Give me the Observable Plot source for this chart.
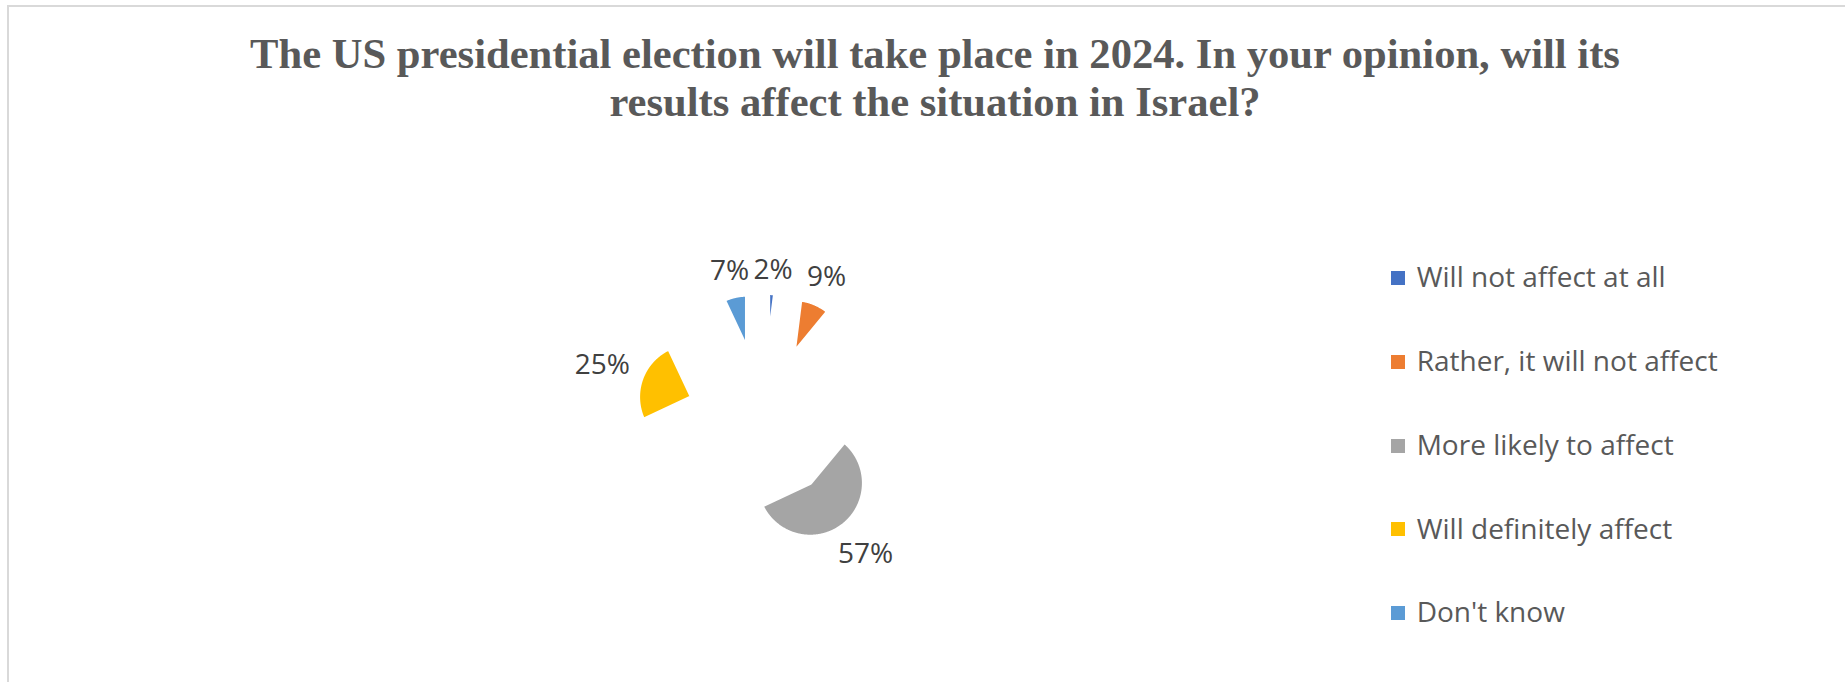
<!DOCTYPE html>
<html><head><meta charset="utf-8">
<script src="https://cdn.jsdelivr.net/npm/d3@7"></script>
<script src="https://cdn.jsdelivr.net/npm/@observablehq/plot@0.6"></script>
<style>
html,body{margin:0;padding:0;background:#fff;overflow:hidden;width:1845px;height:682px;position:relative;}
#frame{position:absolute;left:7px;top:5px;width:1900px;height:800px;border-top:2px solid #d9d9d9;border-left:2px solid #d9d9d9;}
#title{position:absolute;left:0;width:1870px;top:29.5px;text-align:center;font:bold 42.6px/48px "Liberation Serif","Times New Roman",serif;color:#595959;white-space:nowrap;}
#chart{position:absolute;left:0;top:140px;}
.lg-sw{position:absolute;width:14px;height:14px;}
.lg-tx{position:absolute;font:28px/28px "Open Sans",sans-serif;color:#595959;white-space:nowrap;}
</style></head>
<body>
<div id="frame"></div>
<div id="title">The US presidential election will take place in 2024. In your opinion, will its<br>results affect the situation in Israel?</div>
<div id="chart"></div>
<div id="legend"></div>
<script>
// ---- data ----
const categories = ["Will not affect at all", "Rather, it will not affect", "More likely to affect", "Will definitely affect", "Don't know"];
const values = [2, 9, 57, 25, 7];
const colors = ["#4472C4", "#ED7D31", "#A5A5A5", "#FFC000", "#5B9BD5"];

// ---- layout ----
const W = 1845, H = 542, cx = 763, cy = 282.3;
const R = 53.6, explode = 76.2, sliceGap = 3.8, labelGap = 12, fs = 28;

const total = d3.sum(values);
let acc = 0;
const slices = values.map((v, i) => {
  const a0 = acc / total * 2 * Math.PI; acc += v;
  const a1 = acc / total * 2 * Math.PI;
  return {cat: categories[i], value: v, a0, a1, mid: (a0 + a1) / 2};
});

const pts = [];
for (const s of slices) {
  const ox = explode * Math.sin(s.mid), oy = -explode * Math.cos(s.mid);
  pts.push({cat: s.cat, x: ox, y: oy});
  const n = Math.max(2, Math.ceil((s.a1 - s.a0) / (Math.PI / 360)));
  for (let k = 0; k <= n; k++) {
    const t = s.a0 + (s.a1 - s.a0) * k / n;
    pts.push({cat: s.cat, x: ox + R * Math.sin(t), y: oy - R * Math.cos(t)});
  }
  pts.push({cat: s.cat, x: ox, y: oy});
}

const labs = slices.map(s => {
  const text = s.value + "%";
  const hw = fs * (0.572 * (text.length - 1) + 0.831) / 2, hh = 10;
  const r = R + explode + labelGap + hw * Math.abs(Math.sin(s.mid)) + hh * Math.abs(Math.cos(s.mid));
  return {text, x: r * Math.sin(s.mid), y: -r * Math.cos(s.mid)};
});

const chart = Plot.plot({
  width: W, height: H, margin: 0,
  x: {type: "linear", domain: [-cx, W - cx], range: [0, W], axis: null},
  y: {type: "linear", domain: [-cy, H - cy], range: [0, H], axis: null},
  color: {domain: categories, range: colors},
  style: {background: "transparent", overflow: "visible"},
  marks: [
    Plot.line(pts, {x: "x", y: "y", z: "cat", fill: "cat", stroke: "white", strokeWidth: sliceGap, strokeLinejoin: "round", strokeLinecap: "round"}),
    Plot.text(labs, {x: "x", y: "y", text: "text", fill: "#404040", fontSize: fs, fontFamily: "'Open Sans', sans-serif", lineAnchor: "middle"})
  ]
});
document.getElementById("chart").appendChild(chart);

// ---- legend ----
const legend = document.getElementById("legend");
const lgX = 1391, lgTop = 277.7, lgStep = 83.9;
categories.forEach((c, i) => {
  const yc = lgTop + i * lgStep;
  const sw = document.createElement("div");
  sw.className = "lg-sw";
  sw.style.left = lgX + "px"; sw.style.top = (yc - 7) + "px"; sw.style.background = colors[i];
  legend.appendChild(sw);
  const tx = document.createElement("div");
  tx.className = "lg-tx";
  tx.style.left = (lgX + 25.7) + "px"; tx.style.top = (yc + 9 - 24.86) + "px";
  tx.textContent = c;
  legend.appendChild(tx);
});
</script>
</body></html>
